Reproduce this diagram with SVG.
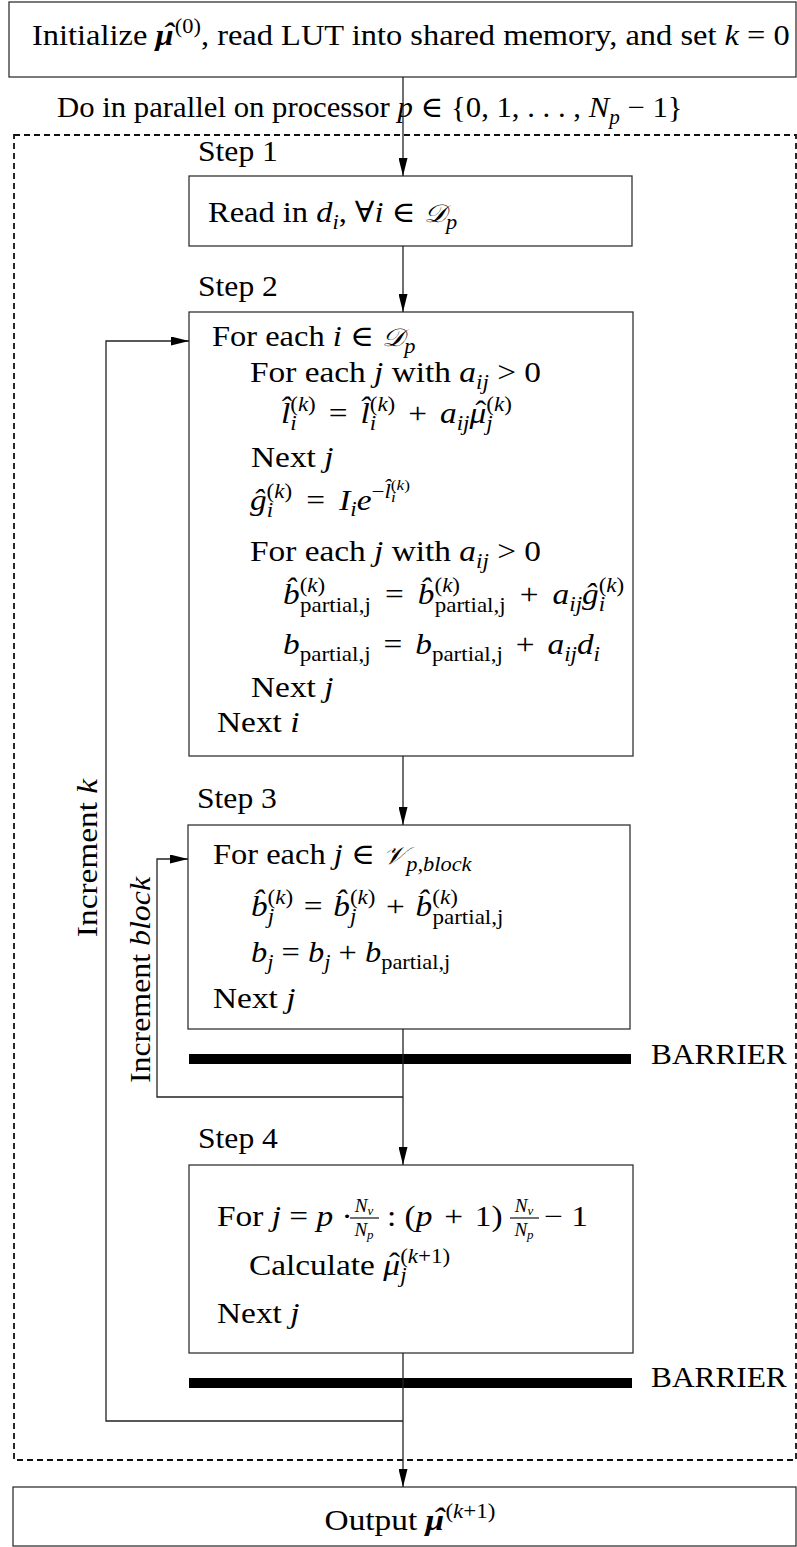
<svg xmlns="http://www.w3.org/2000/svg" width="797" height="1547" viewBox="0 0 797 1547">
<style>
.t{font-family:"Liberation Serif","DejaVu Serif",serif;font-size:29px;fill:#000}
.it{font-style:italic}
.bi{font-style:italic;font-weight:bold}
.cal{font-size:25px;font-style:italic}
.s{font-size:20px}
.ss{font-size:15px}
.fr{font-size:19px}
.fs{font-size:13px}
.box{fill:#fff;stroke:#333;stroke-width:1.3}
.ln{fill:none;stroke:#222;stroke-width:1.3}
.dash{fill:none;stroke:#111;stroke-width:1.8;stroke-dasharray:6 4}
.bar{fill:#000}
</style>
<defs>
<marker id="ah" markerUnits="userSpaceOnUse" markerWidth="18" markerHeight="9" refX="18" refY="4.5" orient="auto" viewBox="0 0 18 9">
<path d="M0,0 L18,4.5 L0,9 z" fill="#000"/>
</marker>
</defs>

<rect class="dash" x="14" y="135" width="782" height="1325"/>

<g id="init">
<rect class="box" x="9" y="2" width="787" height="75"/>
<text class="t" transform="translate(32,45) scale(1.12,1)">Initialize <tspan class="bi">μ</tspan><tspan class="bi" dx="-9.5" dy="-2">ˆ</tspan><tspan class="s" dx="1" dy="-10">(0)</tspan><tspan dy="12">, read LUT into shared memory, and set </tspan><tspan class="it">k</tspan> = 0</text>
</g>

<g id="parallel-label">
<text class="t" transform="translate(57,117) scale(1.06,1)">Do in parallel on processor <tspan class="it">p</tspan> ∈ {0, 1, . . . , <tspan class="it">N</tspan><tspan class="s it" dy="7">p</tspan><tspan dy="-7"> − 1}</tspan></text>
</g>

<g id="step1">
<text class="t" transform="translate(198,161) scale(1.09,1)">Step 1</text>
<rect class="box" x="189" y="176" width="443" height="70"/>
<text class="t" transform="translate(208,222) scale(1.12,1)">Read in <tspan class="it">d</tspan><tspan class="s it" dy="7">i</tspan><tspan dy="-7">, ∀</tspan><tspan class="it">i</tspan> ∈ <tspan class="cal">𝒟</tspan><tspan class="s it" dy="7">p</tspan></text>
</g>

<g id="step2">
<text class="t" transform="translate(198,296) scale(1.09,1)">Step 2</text>
<rect class="box" x="189" y="312" width="444" height="444"/>
<text class="t" transform="translate(212,346) scale(1.12,1)">For each <tspan class="it">i</tspan> ∈ <tspan class="cal">𝒟</tspan><tspan class="s it" dy="7">p</tspan></text>
<text class="t" transform="translate(250,382) scale(1.15,1)">For each <tspan class="it">j</tspan> with <tspan class="it">a</tspan><tspan class="s it" dy="7">ij</tspan><tspan dy="-7"> &gt; 0</tspan></text>
<text class="t" transform="translate(281,423) scale(1.15,1)"><tspan class="it">l̂</tspan><tspan class="s it" dy="7">i</tspan><tspan class="s" dx="-5.6" dy="-19">(</tspan><tspan class="s it">k</tspan><tspan class="s">)</tspan><tspan dx="4" dy="12"> = </tspan><tspan class="it" dx="4">l̂</tspan><tspan class="s it" dy="7">i</tspan><tspan class="s" dx="-5.6" dy="-19">(</tspan><tspan class="s it">k</tspan><tspan class="s">)</tspan><tspan dx="4" dy="12"> + </tspan><tspan class="it" dx="4">a</tspan><tspan class="s it" dy="7">ij</tspan><tspan class="it" dy="-7">μ</tspan><tspan dx="-9.5" dy="-2">ˆ</tspan><tspan class="s it" dy="9">j</tspan><tspan class="s" dx="-5.6" dy="-19">(</tspan><tspan class="s it">k</tspan><tspan class="s">)</tspan></text>
<text class="t" transform="translate(251,467) scale(1.15,1)">Next <tspan class="it">j</tspan></text>
<text class="t" transform="translate(250,510) scale(1.15,1)"><tspan class="it">ĝ</tspan><tspan class="s it" dy="7">i</tspan><tspan class="s" dx="-5.6" dy="-19">(</tspan><tspan class="s it">k</tspan><tspan class="s">)</tspan><tspan dx="5" dy="12"> = </tspan><tspan class="it" dx="5">I</tspan><tspan class="s it" dy="6">i</tspan><tspan class="it" dy="-6">e</tspan><tspan class="s" dy="-12">−</tspan><tspan class="s it">l̂</tspan><tspan class="ss it" dy="4">i</tspan><tspan class="ss" dx="-4.2" dy="-12">(</tspan><tspan class="ss it">k</tspan><tspan class="ss">)</tspan></text>
<text class="t" transform="translate(250,561) scale(1.15,1)">For each <tspan class="it">j</tspan> with <tspan class="it">a</tspan><tspan class="s it" dy="7">ij</tspan><tspan dy="-7"> &gt; 0</tspan></text>
<text class="t" transform="translate(283,604) scale(1.15,1)"><tspan class="it">b̂</tspan><tspan class="s" dy="-12">(</tspan><tspan class="s it">k</tspan><tspan class="s">)</tspan><tspan class="s" dx="-22" dy="20">partial,j</tspan><tspan dx="5" dy="-8"> = </tspan><tspan class="it" dx="5">b̂</tspan><tspan class="s" dy="-12">(</tspan><tspan class="s it">k</tspan><tspan class="s">)</tspan><tspan class="s" dx="-22" dy="20">partial,j</tspan><tspan dx="5" dy="-8"> + </tspan><tspan class="it" dx="5">a</tspan><tspan class="s it" dy="7">ij</tspan><tspan class="it" dy="-7">ĝ</tspan><tspan class="s it" dy="7">i</tspan><tspan class="s" dx="-5.6" dy="-19">(</tspan><tspan class="s it">k</tspan><tspan class="s">)</tspan></text>
<text class="t" transform="translate(283,654) scale(1.15,1)"><tspan class="it">b</tspan><tspan class="s" dy="7">partial,j</tspan><tspan dx="4" dy="-7"> = </tspan><tspan class="it" dx="4">b</tspan><tspan class="s" dy="7">partial,j</tspan><tspan dx="4" dy="-7"> + </tspan><tspan class="it" dx="4">a</tspan><tspan class="s it" dy="7">ij</tspan><tspan class="it" dy="-7">d</tspan><tspan class="s it" dy="7">i</tspan></text>
<text class="t" transform="translate(251,697) scale(1.15,1)">Next <tspan class="it">j</tspan></text>
<text class="t" transform="translate(217,732) scale(1.15,1)">Next <tspan class="it">i</tspan></text>
</g>

<g id="step3">
<text class="t" transform="translate(197,808) scale(1.09,1)">Step 3</text>
<rect class="box" x="188" y="825" width="442" height="204"/>
<text class="t" transform="translate(213,864) scale(1.12,1)">For each <tspan class="it">j</tspan> ∈ <tspan class="cal">𝒱</tspan><tspan class="s it" dy="7">p,block</tspan></text>
<text class="t" transform="translate(251,916) scale(1.15,1)"><tspan class="it">b̂</tspan><tspan class="s it" dy="7">j</tspan><tspan class="s" dx="-5.6" dy="-19">(</tspan><tspan class="s it">k</tspan><tspan class="s">)</tspan><tspan dx="2" dy="12"> = </tspan><tspan class="it" dx="2">b̂</tspan><tspan class="s it" dy="7">j</tspan><tspan class="s" dx="-5.6" dy="-19">(</tspan><tspan class="s it">k</tspan><tspan class="s">)</tspan><tspan dx="2" dy="12"> + </tspan><tspan class="it" dx="2">b̂</tspan><tspan class="s" dy="-12">(</tspan><tspan class="s it">k</tspan><tspan class="s">)</tspan><tspan class="s" dx="-22" dy="20">partial,j</tspan></text>
<text class="t" transform="translate(251,962) scale(1.12,1)"><tspan class="it">b</tspan><tspan class="s it" dy="7">j</tspan><tspan dy="-7"> = </tspan><tspan class="it">b</tspan><tspan class="s it" dy="7">j</tspan><tspan dy="-7"> + </tspan><tspan class="it">b</tspan><tspan class="s" dy="7">partial,j</tspan></text>
<text class="t" transform="translate(213,1008) scale(1.15,1)">Next <tspan class="it">j</tspan></text>
</g>

<g id="barrier1">
<rect class="bar" x="189" y="1054" width="442" height="10"/>
<text class="t" transform="translate(651,1064) scale(1.08,1)">BARRIER</text>
</g>

<g id="step4">
<text class="t" transform="translate(198,1148) scale(1.09,1)">Step 4</text>
<rect class="box" x="189" y="1165" width="444" height="188"/>
<text class="t" transform="translate(217,1226) scale(1.15,1)">For <tspan class="it">j</tspan> = <tspan class="it">p</tspan> ·</text>
<text class="t fr it" x="364" y="1212" text-anchor="middle">N<tspan class="fs" dy="3">v</tspan></text>
<line class="ln" x1="350" y1="1218" x2="379" y2="1218"/>
<text class="t fr it" x="364" y="1236" text-anchor="middle">N<tspan class="fs" dy="3">p</tspan></text>
<text class="t" transform="translate(387,1226) scale(1.15,1)">: (<tspan class="it">p</tspan><tspan dx="3"> + </tspan><tspan dx="3">1)</tspan></text>
<text class="t fr it" x="524" y="1212" text-anchor="middle">N<tspan class="fs" dy="3">v</tspan></text>
<line class="ln" x1="510" y1="1218" x2="539" y2="1218"/>
<text class="t fr it" x="524" y="1236" text-anchor="middle">N<tspan class="fs" dy="3">p</tspan></text>
<text class="t" transform="translate(544,1226) scale(1.15,1)"> − 1</text>
<text class="t" transform="translate(249,1275) scale(1.15,1)">Calculate <tspan class="it">μ</tspan><tspan dx="-9.5" dy="-2">ˆ</tspan><tspan class="s it" dy="9">j</tspan><tspan class="s" dx="-5.6" dy="-19">(</tspan><tspan class="s it">k</tspan><tspan class="s">+1)</tspan></text>
<text class="t" transform="translate(217,1323) scale(1.15,1)">Next <tspan class="it">j</tspan></text>
</g>

<g id="barrier2">
<rect class="bar" x="189" y="1378" width="443" height="10"/>
<text class="t" transform="translate(651,1387) scale(1.08,1)">BARRIER</text>
</g>

<g id="output">
<rect class="box" x="13" y="1487" width="783" height="59"/>
<text class="t" text-anchor="middle" transform="translate(410,1530) scale(1.15,1)">Output <tspan class="bi">μ</tspan><tspan class="bi" dx="-9.5" dy="-2">ˆ</tspan><tspan class="s" dx="1" dy="-10">(</tspan><tspan class="s it">k</tspan><tspan class="s">+1)</tspan></text>
</g>

<g id="loop-labels">
<text class="t" text-anchor="middle" transform="translate(97,858) rotate(-90) scale(1.15,1)">Increment <tspan class="it">k</tspan></text>
<text class="t" text-anchor="middle" transform="translate(150,980) rotate(-90) scale(1.1,1)">Increment <tspan class="it">block</tspan></text>
</g>

<g id="connectors">
<path class="ln" d="M403,77 V176" marker-end="url(#ah)"/>
<path class="ln" d="M403,246 V312" marker-end="url(#ah)"/>
<path class="ln" d="M403,756 V825" marker-end="url(#ah)"/>
<path class="ln" d="M403,1029 V1165" marker-end="url(#ah)"/>
<path class="ln" d="M403,1353 V1487" marker-end="url(#ah)"/>
<path class="ln" d="M403,1097 H157 V859 H188" marker-end="url(#ah)"/>
<path class="ln" d="M403,1421 H106 V341 H189" marker-end="url(#ah)"/>
</g>
</svg>
